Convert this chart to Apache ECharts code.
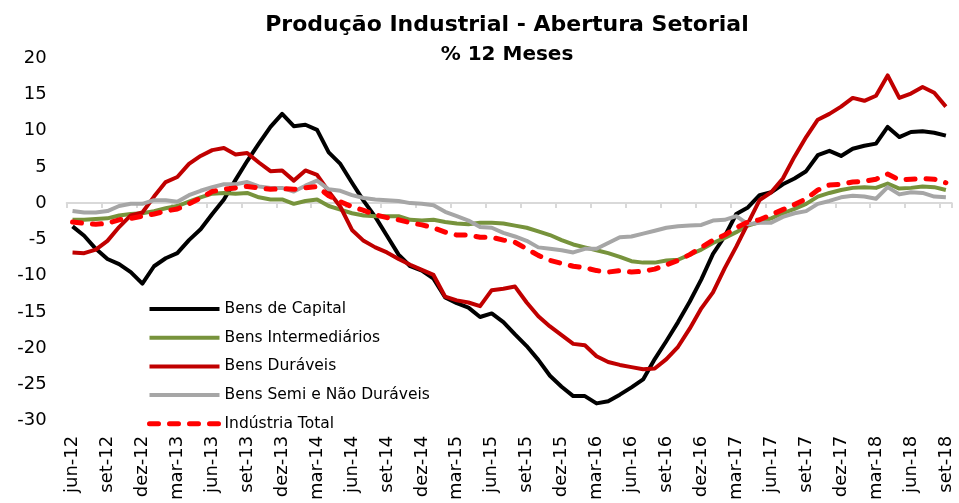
<!DOCTYPE html>
<html>
<head>
<meta charset="utf-8">
<script src="https://cdn.jsdelivr.net/npm/echarts@6/dist/echarts.min.js"></script>
<style>
  html, body { margin: 0; padding: 0; background: #fff; }
  #chart { width: 959px; height: 503px; }
</style>
</head>
<body>
<div id="chart"></div>
<script>
// meses jun-12 .. set-18
const monthNames = ['jan', 'fev', 'mar', 'abr', 'mai', 'jun', 'jul', 'ago', 'set', 'out', 'nov', 'dez'];
const categories = [];
for (let y = 12; y <= 18; y++) {
  for (let m = 0; m < 12; m++) {
    if (y === 12 && m < 5) continue;
    if (y === 18 && m > 8) continue;
    categories.push(monthNames[m] + '-' + y);
  }
}

const bensCapital = [
  -3.2, -4.5, -6.3, -7.7, -8.4, -9.5, -11.1, -8.7, -7.6, -6.9, -5.1, -3.6,
  -1.5, 0.5, 3.2, 5.8, 8.2, 10.5, 12.3, 10.6, 10.8, 10.1, 7.0, 5.4,
  2.8, 0.3, -1.9, -4.5, -7.1, -8.7, -9.3, -10.4, -13.0, -13.8, -14.4, -15.7,
  -15.2, -16.4, -18.1, -19.7, -21.6, -23.8, -25.3, -26.6, -26.6, -27.6, -27.3, -26.4,
  -25.4, -24.3, -21.5, -19.0, -16.4, -13.6, -10.5, -7.0, -4.6, -1.5, -0.6, 1.1,
  1.5, 2.6, 3.4, 4.4, 6.6, 7.2, 6.5, 7.5, 7.9, 8.2, 10.5, 9.1,
  9.8, 9.9, 9.7, 9.3
];
const bensIntermediarios = [
  -2.3, -2.3, -2.2, -2.1, -1.7, -1.5, -1.4, -1.1, -0.7, -0.4, 0.2, 0.8,
  1.3, 1.4, 1.3, 1.4, 0.8, 0.5, 0.5, -0.1, 0.3, 0.5, -0.4, -0.9,
  -1.4, -1.7, -1.8, -1.8, -1.8, -2.3, -2.4, -2.3, -2.6, -2.8, -2.9, -2.7,
  -2.7, -2.8, -3.1, -3.4, -3.9, -4.4, -5.1, -5.7, -6.1, -6.5, -6.9, -7.4,
  -8.0, -8.2, -8.2, -7.9, -7.8, -7.1, -6.4, -5.5, -4.8, -4.0, -3.1, -2.6,
  -2.1, -1.4, -0.8, -0.1, 0.9, 1.4, 1.8, 2.1, 2.2, 2.1, 2.7, 2.0,
  2.1, 2.3, 2.2, 1.8
];
const bensDuraveis = [
  -6.8, -6.9, -6.4, -5.2, -3.3, -1.7, -1.3, 0.9, 2.9, 3.6, 5.4, 6.5,
  7.3, 7.6, 6.7, 6.9, 5.6, 4.4, 4.5, 3.1, 4.5, 3.9, 1.6, -0.5,
  -3.7, -5.2, -6.1, -6.8, -7.7, -8.5, -9.2, -9.9, -12.9, -13.4, -13.7, -14.2,
  -12.0, -11.8, -11.5, -13.7, -15.6, -17.0, -18.2, -19.4, -19.6, -21.1, -21.9, -22.3,
  -22.6, -22.9, -22.8, -21.5, -19.8, -17.3, -14.5, -12.3, -9.0, -6.0, -2.8, 0.4,
  1.5, 3.4, 6.4, 9.1, 11.5, 12.3, 13.3, 14.5, 14.1, 14.8, 17.6, 14.5,
  15.1, 16.0, 15.2, 13.3
];
const bensSemiNaoDuraveis = [
  -1.1, -1.3, -1.3, -1.1, -0.4, -0.1, -0.1, 0.4, 0.4, 0.2, 1.1, 1.7,
  2.2, 2.6, 2.6, 2.9, 2.3, 2.1, 2.1, 1.6, 2.4, 3.1, 1.9, 1.7,
  1.1, 0.7, 0.5, 0.4, 0.3, 0.0, -0.1, -0.3, -1.2, -1.8, -2.4, -3.3,
  -3.4, -4.1, -4.6, -5.2, -6.1, -6.3, -6.5, -6.8, -6.3, -6.3, -5.5, -4.7,
  -4.6, -4.2, -3.8, -3.4, -3.2, -3.1, -3.0, -2.4, -2.3, -1.8, -2.9, -2.7,
  -2.7, -1.9, -1.4, -1.1, -0.1, 0.3, 0.8, 1.0, 0.9, 0.6, 2.2, 1.2,
  1.5, 1.4, 0.9, 0.8
];
const industriaTotal = [
  -2.6, -2.8, -2.9, -2.8, -2.3, -2.1, -1.8, -1.5, -1.1, -0.8, -0.1, 0.7,
  1.6, 1.9, 2.1, 2.3, 2.1, 1.9, 2.0, 1.9, 2.1, 2.3, 1.0, 0.2,
  -0.5, -1.0, -1.6, -2.0, -2.3, -2.7, -3.0, -3.4, -4.0, -4.4, -4.4, -4.7,
  -4.7, -5.1, -5.4, -6.3, -7.2, -7.9, -8.3, -8.7, -8.9, -9.3, -9.5, -9.3,
  -9.5, -9.4, -9.1, -8.5, -7.9, -7.1, -6.1, -5.1, -4.4, -3.4, -2.6, -2.3,
  -1.6, -0.9, -0.2, 0.6, 1.8, 2.5, 2.6, 2.9, 3.0, 3.3, 4.0, 3.2,
  3.3, 3.4, 3.3, 2.8
];

const font = 'DejaVu Sans';
const chart = echarts.init(document.getElementById('chart'));

function solid(name, data, color) {
  return {
    name: name,
    type: 'line',
    data: data,
    symbol: 'none',
    lineStyle: { color: color, width: 4, join: 'round' },
    itemStyle: { color: color }
  };
}

const option = {
  animation: false,
  backgroundColor: '#fff',
  title: {
    text: 'Produção Industrial - Abertura Setorial',
    subtext: '% 12 Meses',
    left: 502,
    top: 7,
    textAlign: 'center',
    itemGap: 6,
    textStyle: { fontFamily: font, fontSize: 22, fontWeight: 'bold', color: '#000', lineHeight: 26 },
    subtextStyle: { fontFamily: font, fontSize: 20, fontWeight: 'bold', color: '#000', lineHeight: 22 }
  },
  legend: {
    orient: 'vertical',
    left: 142,
    top: 296,
    itemWidth: 70,
    itemHeight: 14,
    itemGap: 12.7,
    itemStyle: { opacity: 0 },
    lineStyle: { width: 4 },
    textStyle: { fontFamily: font, fontSize: 15.5, color: '#000' },
    data: [
      'Bens de Capital',
      'Bens Intermediários',
      'Bens Duráveis',
      'Bens Semi e Não Duráveis',
      { name: 'Indústria Total', lineStyle: { width: 5, type: [9, 11], cap: 'round' } }
    ]
  },
  grid: { left: 66.7, right: 7.3, top: 58, bottom: 81.5 },
  xAxis: [
    {
      type: 'category',
      data: categories,
      boundaryGap: true,
      position: 'bottom',
      axisLine: { show: false, onZero: false },
      axisTick: { show: false },
      axisLabel: { rotate: 90, interval: 2, margin: 15, fontFamily: font, fontSize: 18, color: '#000' }
    },
    {
      type: 'category',
      data: categories,
      boundaryGap: true,
      position: 'bottom',
      axisLine: { show: true, onZero: true, lineStyle: { color: '#d9d9d9', width: 2 } },
      axisTick: { show: true, interval: 2, length: 5, lineStyle: { color: '#d9d9d9', width: 2 } },
      axisLabel: { show: false }
    }
  ],
  yAxis: {
    type: 'value',
    min: -30,
    max: 20,
    interval: 5,
    splitLine: { show: false },
    axisLine: { show: false },
    axisTick: { show: false },
    axisLabel: { margin: 20, fontFamily: font, fontSize: 18, color: '#000' }
  },
  series: [
    solid('Bens de Capital', bensCapital, '#000000'),
    solid('Bens Intermediários', bensIntermediarios, '#77933C'),
    solid('Bens Duráveis', bensDuraveis, '#C00000'),
    solid('Bens Semi e Não Duráveis', bensSemiNaoDuraveis, '#A6A6A6'),
    {
      name: 'Indústria Total',
      type: 'line',
      data: industriaTotal,
      symbol: 'none',
      lineStyle: { color: '#FF0000', width: 5, type: [9, 11], cap: 'round', join: 'round' },
      itemStyle: { color: '#FF0000' }
    }
  ]
};
chart.setOption(option);
</script>
</body>
</html>
